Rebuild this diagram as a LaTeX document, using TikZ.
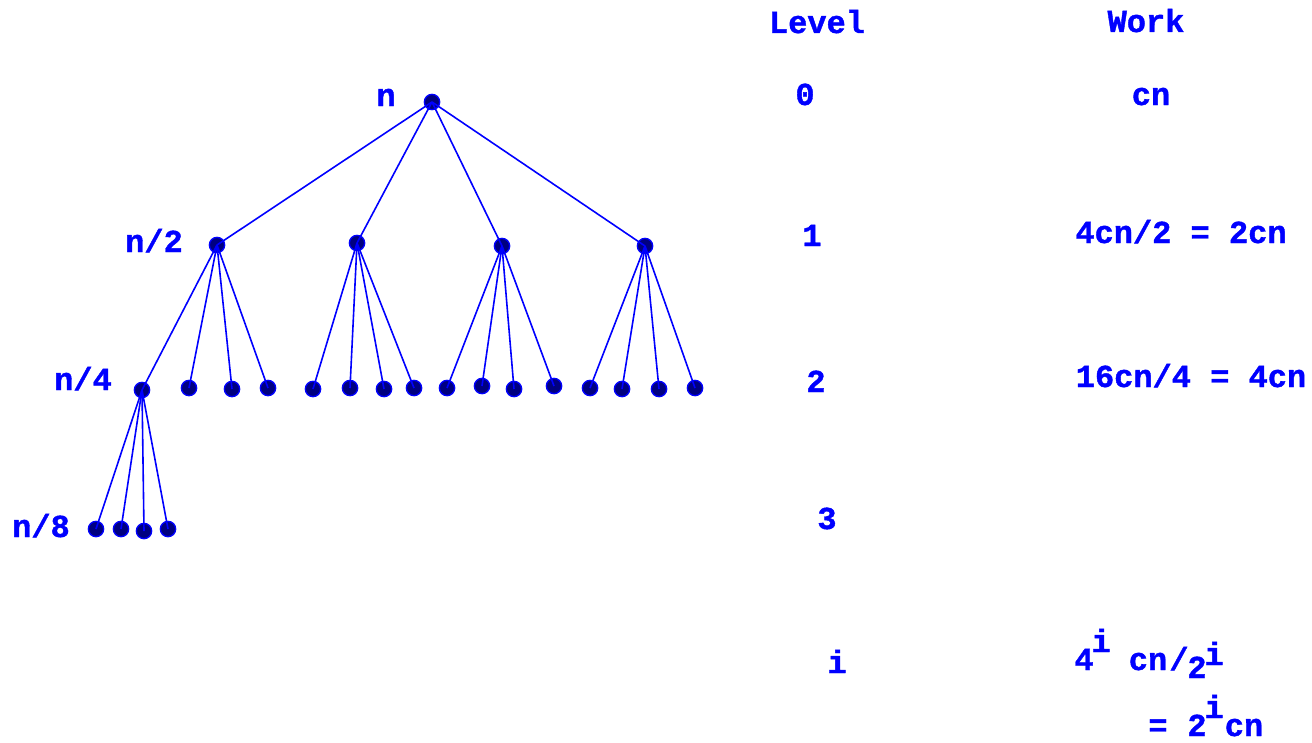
\documentclass[tikz,border=0pt]{standalone}
\usepackage{fontspec}
\setmainfont{Liberation Mono}[BoldFeatures={FakeBold=1.2}]
\definecolor{txtblue}{RGB}{0,0,255}
\definecolor{dotfill}{RGB}{0,0,128}
\begin{document}
\begin{tikzpicture}[x=0.75pt,y=-0.75pt,
  dotnode/.style={circle,draw=txtblue,fill=dotfill,line width=1pt,minimum size=11.5pt,inner sep=0pt},
  edge/.style={draw=txtblue,line width=1.2pt},
  lbl/.style={text=txtblue,font=\fontsize{24}{28}\selectfont\bfseries,inner sep=0pt,anchor=base}]
\useasboundingbox (0,0) rectangle (1312,742);
% dots
\node[dotnode] (r) at (432,102) {};
\node[dotnode] (a) at (217,245) {};
\node[dotnode] (b) at (357,243) {};
\node[dotnode] (c) at (502,246) {};
\node[dotnode] (d) at (645,246) {};
\node[dotnode] (a1) at (142,390) {};
\node[dotnode] (a2) at (189,388) {};
\node[dotnode] (a3) at (232,389) {};
\node[dotnode] (a4) at (268,388) {};
\node[dotnode] (b1) at (313,389) {};
\node[dotnode] (b2) at (350,388) {};
\node[dotnode] (b3) at (384,389) {};
\node[dotnode] (b4) at (414,388) {};
\node[dotnode] (c1) at (447,388) {};
\node[dotnode] (c2) at (482,386) {};
\node[dotnode] (c3) at (514,389) {};
\node[dotnode] (c4) at (554,386) {};
\node[dotnode] (d1) at (590,388) {};
\node[dotnode] (d2) at (622,389) {};
\node[dotnode] (d3) at (659,389) {};
\node[dotnode] (d4) at (695,388) {};
\node[dotnode] (e1) at (96,529) {};
\node[dotnode] (e2) at (121,529) {};
\node[dotnode] (e3) at (144,531) {};
\node[dotnode] (e4) at (168,529) {};
% edges
\foreach \p/\q in {r/a,r/b,r/c,r/d,a/a1,a/a2,a/a3,a/a4,b/b1,b/b2,b/b3,b/b4,c/c1,c/c2,c/c3,c/c4,d/d1,d/d2,d/d3,d/d4,a1/e1,a1/e2,a1/e3,a1/e4}
  \draw[edge] (\p.center) -- (\q.center);
% tree labels
\node[lbl] (ln) at (386,106) {n};
\node[lbl] (ln2) at (154,252) {n/2};
\node[lbl] (ln4) at (83,390) {n/4};
\node[lbl] (ln8) at (41,537) {n/8};
% level column
\node[lbl] (lev) at (817,33) {Level};
\node[lbl] (l0) at (805,105) {0};
\node[lbl] (l1) at (812,246) {1};
\node[lbl] (l2) at (816,392) {2};
\node[lbl] (l3) at (827,529) {3};
\node[lbl] (li) at (837,673) {i};
% work column
\node[lbl] (wk) at (1146,32) {Work};
\node[lbl] (w0) at (1151,105) {cn};
\node[lbl] (w1) at (1181,243) {4cn/2 = 2cn};
\node[lbl] (w2) at (1191,387) {16cn/4 = 4cn};
% 4^i cn /2^i
\node[lbl] (f4) at (1084,670) {4};
\node[lbl] (fi1) at (1101,652) {i};
\node[lbl] (fcn) at (1148,670) {cn};
\node[lbl] (fsl) at (1179,670) {/};
\node[lbl] (f2) at (1197,678) {2};
\node[lbl] (fi2) at (1214,665) {i};
% = 2^i cn
\node[lbl] (geq) at (1158,736) {=};
\node[lbl] (g2) at (1197,736) {2};
\node[lbl] (gi) at (1214,718) {i};
\node[lbl] (gcn) at (1244,736) {cn};
\end{tikzpicture}
\end{document}
